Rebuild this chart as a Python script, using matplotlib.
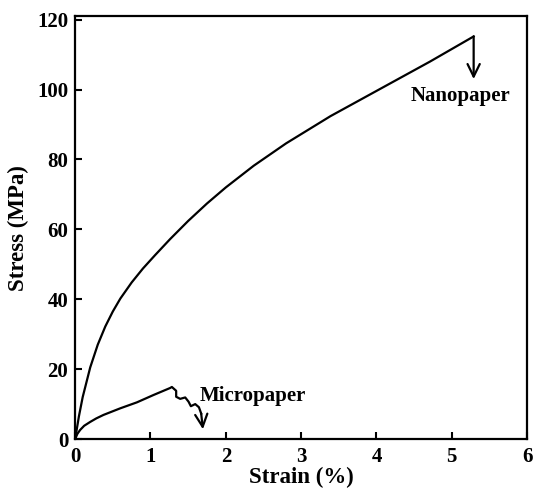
import matplotlib
matplotlib.use('Agg')
import matplotlib.pyplot as plt

# Nanopaper stress-strain curve
nano_strain = [0, 0.05, 0.1, 0.2, 0.3, 0.4, 0.5, 0.6, 0.75, 0.9, 1.06, 1.26,
               1.5, 1.75, 2.0, 2.37, 2.8, 3.39, 4.05, 4.71, 5.29]
nano_stress = [0, 6.5, 12, 20.5, 27, 32.2, 36.5, 40.2, 44.8, 48.8, 52.6, 57.2,
               62.4, 67.4, 72.0, 78.2, 84.6, 92.4, 100.2, 108.0, 115.2]

# Micropaper curve, with the small wavy failure part
micro_strain = [0, 0.03, 0.066, 0.12, 0.2, 0.28, 0.376, 0.6, 0.82, 1.04, 1.26, 1.284,
                1.341, 1.341, 1.394, 1.461, 1.505, 1.536, 1.594, 1.643, 1.673]
micro_stress = [0, 1.5, 2.6, 3.8, 4.9, 5.9, 6.9, 8.8, 10.5, 12.6, 14.6, 14.9,
                13.8, 12.1, 11.5, 11.9, 10.7, 9.4, 10.0, 9.1, 7.3]

# failure arrows (start -> end)
nano_arrow = [(5.29, 115.2), (5.29, 103.0)]
micro_arrow = [(1.673, 7.3), (1.696, 2.8)]

xticks = [0, 1, 2, 3, 4, 5, 6]
yticks = [0, 20, 40, 60, 80, 100, 120]

plt.rcParams['font.family'] = ['Liberation Serif', 'DejaVu Serif']
plt.rcParams['font.weight'] = 'bold'

fig = plt.figure(figsize=(5.33, 4.90), dpi=100)
ax = fig.add_axes([0.141, 0.104, 0.848, 0.863])

ax.plot(nano_strain, nano_stress, color='black', lw=1.6, solid_joinstyle='round')
ax.plot(micro_strain, micro_stress, color='black', lw=1.6, solid_joinstyle='round')

arrow_kw = dict(arrowstyle='->,head_length=0.45,head_width=0.22', lw=1.6,
                color='black', mutation_scale=20, shrinkA=0, shrinkB=0)
ax.annotate('', xy=nano_arrow[1], xytext=nano_arrow[0], arrowprops=arrow_kw)
ax.annotate('', xy=micro_arrow[1], xytext=micro_arrow[0], arrowprops=arrow_kw)

ax.text(4.45, 96.6, 'Nanopaper', fontsize=15, fontweight='bold', va='baseline', ha='left')
ax.text(1.65, 11.0, 'Micropaper', fontsize=15, fontweight='bold', va='baseline', ha='left')

ax.set_xlim(0, 6)
ax.set_ylim(0, 121)
ax.set_xticks(xticks)
ax.set_yticks(yticks)
ax.tick_params(direction='in', length=5, width=1.5, labelsize=15, top=False, right=False)
ax.tick_params(axis='x', pad=6)
ax.tick_params(axis='y', pad=5)
for lab in ax.get_xticklabels() + ax.get_yticklabels():
    lab.set_fontweight('bold')
for s in ax.spines.values():
    s.set_linewidth(1.6)

ax.set_xlabel('Strain (%)', fontsize=16.5, fontweight='bold', labelpad=0)
ax.set_ylabel('Stress (MPa)', fontsize=16.5, fontweight='bold', labelpad=6)

fig.savefig('out.png', dpi=100)
